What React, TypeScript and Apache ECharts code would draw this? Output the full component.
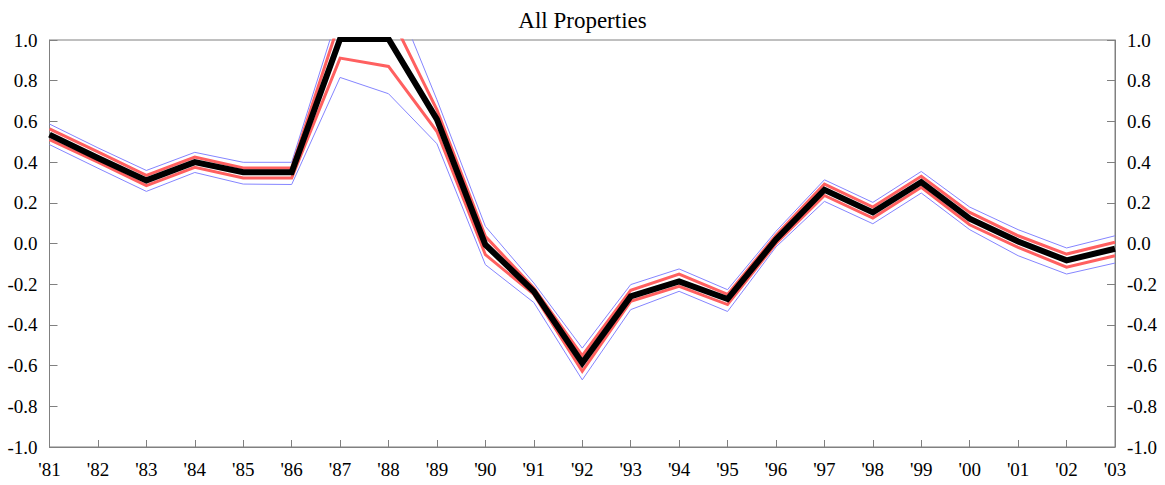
import React, { useEffect, useRef } from "react";
import * as echarts from "echarts";

const categories = ["'81", "'82", "'83", "'84", "'85", "'86", "'87", "'88", "'89", "'90", "'91", "'92", "'93", "'94", "'95", "'96", "'97", "'98", "'99", "'00", "'01", "'02", "'03"];

const center = [0.535, 0.42, 0.31, 0.40, 0.35, 0.35, 1.005, 1.005, 0.61, -0.006, -0.235, -0.587, -0.26, -0.186, -0.273, 0.02, 0.264, 0.153, 0.302, 0.122, 0.01, -0.083, -0.026];
const redUpper = [0.563, 0.45, 0.335, 0.425, 0.371, 0.371, 1.10, 1.14, 0.657, 0.035, -0.219, -0.551, -0.23, -0.15, -0.25, 0.04, 0.292, 0.179, 0.33, 0.153, 0.038, -0.052, 0.006];
const redLower = [0.51, 0.40, 0.284, 0.374, 0.322, 0.322, 0.911, 0.870, 0.55, -0.055, -0.25, -0.628, -0.284, -0.21, -0.30, 0.0, 0.236, 0.125, 0.276, 0.092, -0.019, -0.116, -0.06];
const blueUpper = [0.587, 0.47, 0.359, 0.448, 0.399, 0.399, 1.16, 1.29, 0.706, 0.084, -0.194, -0.514, -0.202, -0.125, -0.227, 0.06, 0.313, 0.202, 0.354, 0.179, 0.068, -0.022, 0.038];
const blueLower = [0.486, 0.37, 0.256, 0.349, 0.292, 0.29, 0.816, 0.736, 0.49, -0.104, -0.29, -0.67, -0.325, -0.235, -0.334, -0.017, 0.207, 0.097, 0.248, 0.068, -0.06, -0.15, -0.096];

const FONT = "Liberation Serif";
const AXIS_COLOR = "#808080";
const BLUE = "#8585ff";
const RED = "#ff6060";

export default function App() {
  const ref = useRef<HTMLDivElement>(null);
  useEffect(() => {
    if (!ref.current) return;
    const chart = echarts.init(ref.current, undefined, { renderer: "svg" });
    const yAxisBase = (pos: "left" | "right") => ({
      type: "value" as const,
      position: pos,
      min: -1,
      max: 1,
      interval: 0.2,
      splitLine: { show: false },
      axisLine: { show: true, onZero: false, lineStyle: { color: AXIS_COLOR, width: 1 } },
      axisTick: { show: true, inside: true, length: 8, lineStyle: { color: AXIS_COLOR } },
      axisLabel: {
        color: "#000",
        fontFamily: FONT,
        fontSize: 19,
        margin: 12,
        formatter: (v: number) => v.toFixed(1),
      },
    });
    const lineSeries = (data: number[], color: string, width: number, z: number) => ({
      type: "line" as const,
      data,
      symbol: "none",
      clip: true,
      z,
      lineStyle: { color, width, join: "miter" as const },
      emphasis: { disabled: true },
    });
    chart.setOption({
      animation: false,
      backgroundColor: "#fff",
      textStyle: { fontFamily: FONT },
      title: {
        text: "All Properties",
        left: "center",
        top: 4,
        textStyle: { fontFamily: FONT, fontSize: 23, fontWeight: "normal", color: "#000" },
      },
      grid: {
        left: 49.5,
        right: 50,
        top: 40,
        bottom: 38,
        show: true,
        borderColor: AXIS_COLOR,
        borderWidth: 1,
        backgroundColor: "transparent",
      },
      xAxis: {
        type: "category",
        data: categories,
        boundaryGap: false,
        axisLine: { show: true, onZero: false, lineStyle: { color: AXIS_COLOR, width: 1 } },
        axisTick: { show: true, inside: true, length: 7, alignWithLabel: true, lineStyle: { color: AXIS_COLOR } },
        axisLabel: { color: "#000", fontFamily: FONT, fontSize: 19, margin: 13, interval: 0 },
        splitLine: { show: false },
      },
      yAxis: [yAxisBase("left"), yAxisBase("right")],
      series: [
        lineSeries(blueUpper, BLUE, 1, 1),
        lineSeries(blueLower, BLUE, 1, 1),
        lineSeries(redUpper, RED, 3, 2),
        lineSeries(redLower, RED, 3, 2),
        lineSeries(center, "#000", 6, 3),
      ],
    });
    return () => chart.dispose();
  }, []);
  return (
    <div
      ref={ref}
      style={{ position: "fixed", left: 0, top: 0, width: 1165, height: 485 }}
    />
  );
}
